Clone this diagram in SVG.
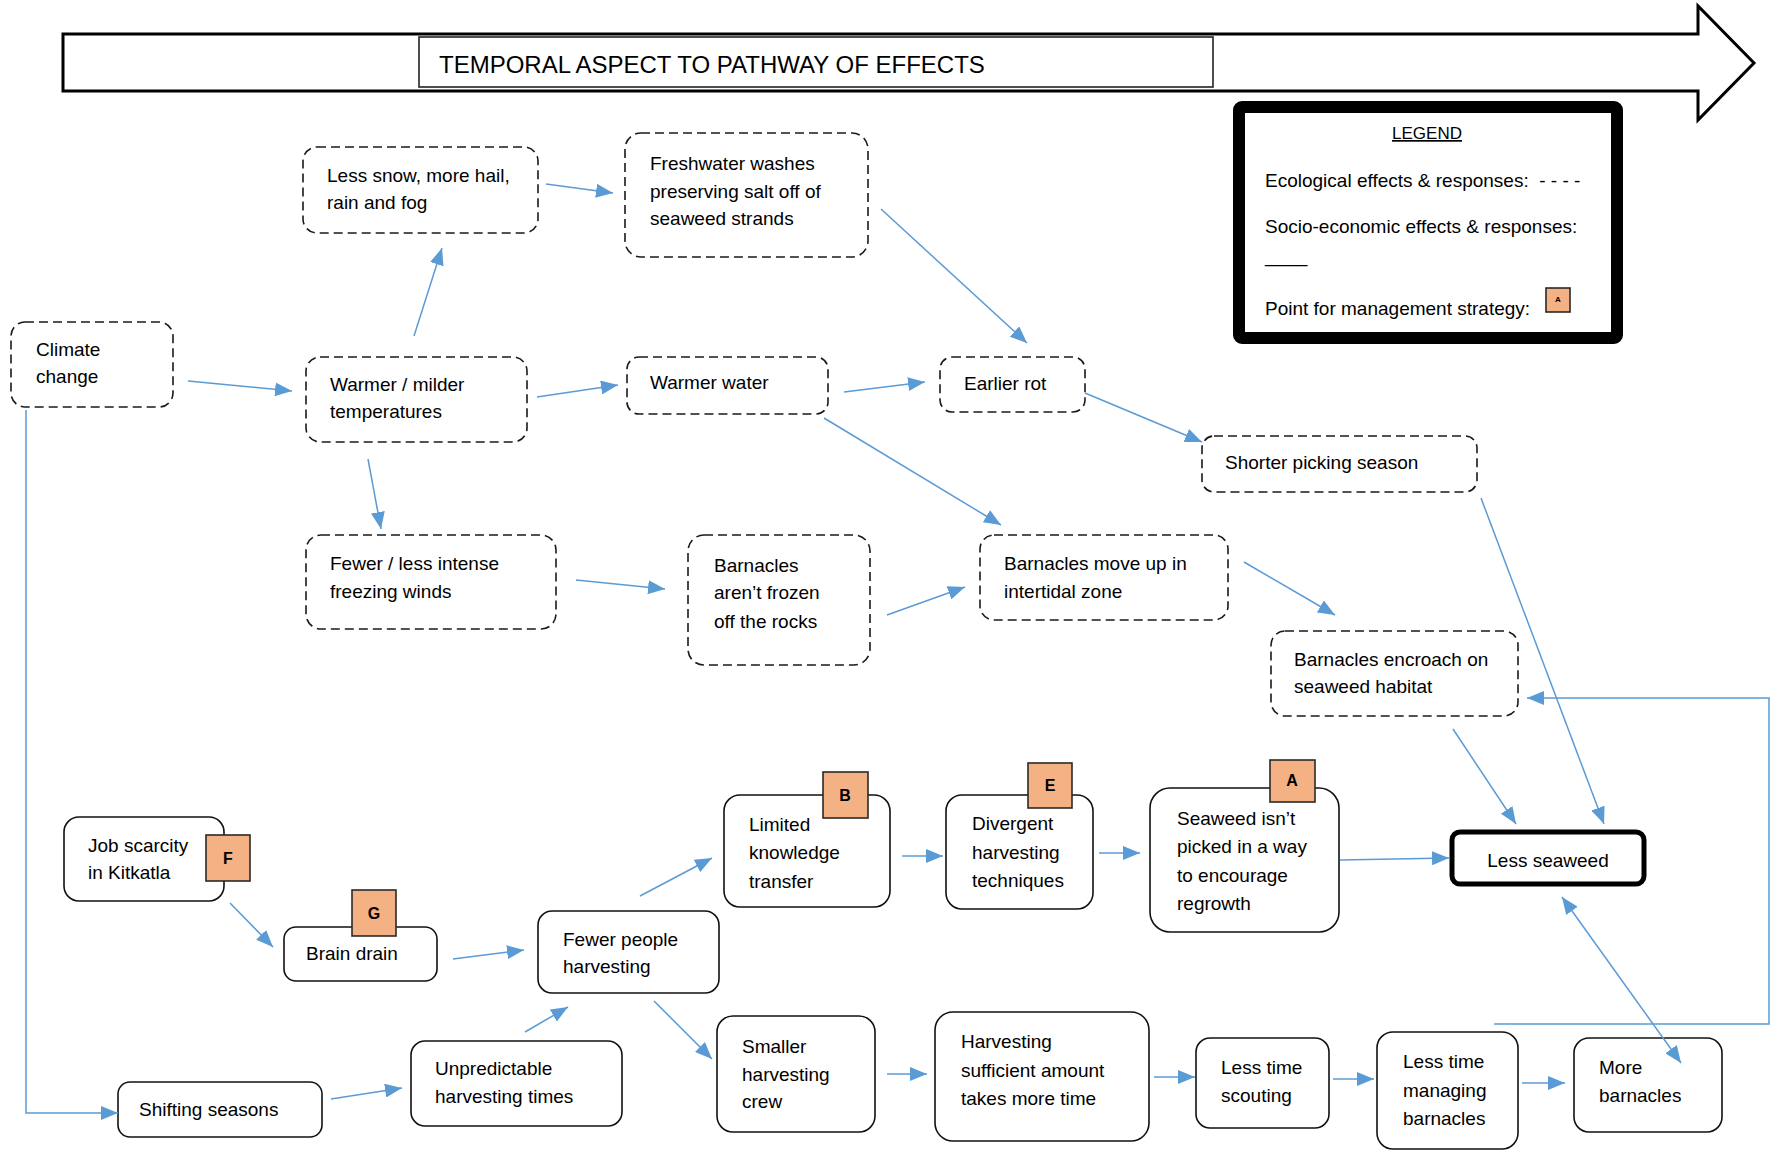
<svg xmlns="http://www.w3.org/2000/svg" width="1771" height="1151" viewBox="0 0 1771 1151">
<style>
text{font-family:"Liberation Sans",Arial,sans-serif;font-size:19px;fill:#000}
.eco{fill:#fff;stroke:#1a1a1a;stroke-width:1.6;stroke-dasharray:9 5}
.soc{fill:#fff;stroke:#111;stroke-width:1.6}
.badge{fill:#F4B183;stroke:#2a2a2a;stroke-width:1.6}
.bl{font-weight:bold;font-size:16px;text-anchor:middle}
.c{fill:none;stroke:#5B9BD5;stroke-width:1.5}
</style>
<defs>
<marker id="ah" markerUnits="userSpaceOnUse" markerWidth="18" markerHeight="14" refX="17" refY="7" orient="auto-start-reverse">
<path d="M0,0 L17,7 L0,14 z" fill="#5B9BD5"/>
</marker>
</defs>
<rect width="1771" height="1151" fill="#fff"/>

<g id="timeline">
<polygon points="63,34 1698,34 1698,6 1754,63 1698,120 1698,91 63,91" fill="#fff" stroke="#000" stroke-width="3"/>
<rect x="419" y="37" width="794" height="50" fill="#fff" stroke="#222" stroke-width="1.6"/>
<text x="439" y="73" style="font-size:24px">TEMPORAL ASPECT TO PATHWAY OF EFFECTS</text>
</g>

<g id="legend">
<rect x="1239" y="107" width="378" height="231" rx="3" fill="#fff" stroke="#000" stroke-width="12"/>
<text x="1427" y="139" text-anchor="middle" style="font-size:17px;text-decoration:underline">LEGEND</text>
<text x="1265" y="187" xml:space="preserve">Ecological effects &amp; responses:  - - - -</text>
<text x="1265" y="233">Socio-economic effects &amp; responses:</text>
<text x="1265" y="262">____</text>
<text x="1265" y="315">Point for management strategy:</text>
<rect x="1546" y="288" width="24" height="24" class="badge" stroke-width="1.2"/>
<text x="1558" y="302" text-anchor="middle" style="font-size:8px;font-weight:bold">A</text>
</g>

<g id="n-climate"><rect class="eco" x="11" y="322" width="162" height="85" rx="14"/><text x="36" y="356">Climate</text><text x="36" y="383">change</text></g>
<g id="n-lesssnow"><rect class="eco" x="303" y="147" width="235" height="86" rx="14"/><text x="327" y="182">Less snow, more hail,</text><text x="327" y="209">rain and fog</text></g>
<g id="n-freshwater"><rect class="eco" x="625" y="133" width="243" height="124" rx="16"/><text x="650" y="170">Freshwater washes</text><text x="650" y="198">preserving salt off of</text><text x="650" y="225">seaweed strands</text></g>
<g id="n-warmer"><rect class="eco" x="306" y="357" width="221" height="85" rx="14"/><text x="330" y="391">Warmer / milder</text><text x="330" y="418">temperatures</text></g>
<g id="n-warmerwater"><rect class="eco" x="627" y="357" width="201" height="57" rx="12"/><text x="650" y="389">Warmer water</text></g>
<g id="n-earlierrot"><rect class="eco" x="940" y="357" width="145" height="55" rx="12"/><text x="964" y="390">Earlier rot</text></g>
<g id="n-shorter"><rect class="eco" x="1202" y="436" width="275" height="56" rx="12"/><text x="1225" y="469">Shorter picking season</text></g>
<g id="n-fewerwinds"><rect class="eco" x="306" y="535" width="250" height="94" rx="15"/><text x="330" y="570">Fewer / less intense</text><text x="330" y="598">freezing winds</text></g>
<g id="n-notfrozen"><rect class="eco" x="688" y="535" width="182" height="130" rx="16"/><text x="714" y="572">Barnacles</text><text x="714" y="599">aren’t frozen</text><text x="714" y="628">off the rocks</text></g>
<g id="n-moveup"><rect class="eco" x="980" y="535" width="248" height="85" rx="14"/><text x="1004" y="570">Barnacles move up in</text><text x="1004" y="598">intertidal zone</text></g>
<g id="n-encroach"><rect class="eco" x="1271" y="631" width="247" height="85" rx="14"/><text x="1294" y="666">Barnacles encroach on</text><text x="1294" y="693">seaweed habitat</text></g>

<g id="n-job"><rect class="soc" x="64" y="817" width="160" height="84" rx="15"/><text x="88" y="852">Job scarcity</text><text x="88" y="879">in Kitkatla</text><rect class="badge" x="206" y="835" width="44" height="46"/><text class="bl" x="228" y="864">F</text></g>
<g id="n-brain"><rect class="soc" x="284" y="927" width="153" height="54" rx="12"/><text x="306" y="960">Brain drain</text><rect class="badge" x="352" y="890" width="44" height="46"/><text class="bl" x="374" y="919">G</text></g>
<g id="n-fewerpeople"><rect class="soc" x="538" y="911" width="181" height="82" rx="14"/><text x="563" y="946">Fewer people</text><text x="563" y="973">harvesting</text></g>
<g id="n-limited"><rect class="soc" x="724" y="795" width="166" height="112" rx="16"/><text x="749" y="831">Limited</text><text x="749" y="859">knowledge</text><text x="749" y="888">transfer</text><rect class="badge" x="823" y="772" width="45" height="46"/><text class="bl" x="845" y="801">B</text></g>
<g id="n-divergent"><rect class="soc" x="946" y="795" width="147" height="114" rx="16"/><text x="972" y="830">Divergent</text><text x="972" y="859">harvesting</text><text x="972" y="887">techniques</text><rect class="badge" x="1028" y="763" width="44" height="45"/><text class="bl" x="1050" y="791">E</text></g>
<g id="n-notpicked"><rect class="soc" x="1150" y="788" width="189" height="144" rx="20"/><text x="1177" y="825">Seaweed isn’t</text><text x="1177" y="853">picked in a way</text><text x="1177" y="882">to encourage</text><text x="1177" y="910">regrowth</text><rect class="badge" x="1270" y="760" width="45" height="42"/><text class="bl" x="1292" y="786">A</text></g>
<g id="n-lessseaweed"><rect x="1452" y="832" width="192" height="52" rx="8" fill="#fff" stroke="#000" stroke-width="5"/><text x="1548" y="867" text-anchor="middle">Less seaweed</text></g>
<g id="n-shifting"><rect class="soc" x="118" y="1082" width="204" height="55" rx="12"/><text x="139" y="1116">Shifting seasons</text></g>
<g id="n-unpredictable"><rect class="soc" x="411" y="1041" width="211" height="85" rx="14"/><text x="435" y="1075">Unpredictable</text><text x="435" y="1103">harvesting times</text></g>
<g id="n-smaller"><rect class="soc" x="717" y="1016" width="158" height="116" rx="16"/><text x="742" y="1053">Smaller</text><text x="742" y="1081">harvesting</text><text x="742" y="1108">crew</text></g>
<g id="n-sufficient"><rect class="soc" x="935" y="1012" width="214" height="129" rx="18"/><text x="961" y="1048">Harvesting</text><text x="961" y="1077">sufficient amount</text><text x="961" y="1105">takes more time</text></g>
<g id="n-scouting"><rect class="soc" x="1196" y="1038" width="133" height="90" rx="14"/><text x="1221" y="1074">Less time</text><text x="1221" y="1102">scouting</text></g>
<g id="n-managing"><rect class="soc" x="1377" y="1032" width="141" height="117" rx="16"/><text x="1403" y="1068">Less time</text><text x="1403" y="1097">managing</text><text x="1403" y="1125">barnacles</text></g>
<g id="n-more"><rect class="soc" x="1574" y="1038" width="148" height="94" rx="15"/><text x="1599" y="1074">More</text><text x="1599" y="1102">barnacles</text></g>

<g id="connectors">
<line class="c" x1="188" y1="381" x2="292" y2="391" marker-end="url(#ah)"/>
<line class="c" x1="414" y1="336" x2="442" y2="248" marker-end="url(#ah)"/>
<line class="c" x1="546" y1="184" x2="613" y2="193" marker-end="url(#ah)"/>
<line class="c" x1="537" y1="397" x2="618" y2="385" marker-end="url(#ah)"/>
<line class="c" x1="844" y1="392" x2="925" y2="382" marker-end="url(#ah)"/>
<line class="c" x1="881" y1="209" x2="1027" y2="343" marker-end="url(#ah)"/>
<line class="c" x1="1085" y1="393" x2="1202" y2="442" marker-end="url(#ah)"/>
<line class="c" x1="824" y1="418" x2="1001" y2="525" marker-end="url(#ah)"/>
<line class="c" x1="368" y1="459" x2="381" y2="529" marker-end="url(#ah)"/>
<line class="c" x1="576" y1="580" x2="665" y2="589" marker-end="url(#ah)"/>
<line class="c" x1="887" y1="615" x2="965" y2="587" marker-end="url(#ah)"/>
<line class="c" x1="1244" y1="562" x2="1335" y2="615" marker-end="url(#ah)"/>
<line class="c" x1="1481" y1="498" x2="1604" y2="824" marker-end="url(#ah)"/>
<line class="c" x1="1453" y1="729" x2="1516" y2="824" marker-end="url(#ah)"/>
<path class="c" d="M1494,1024 H1769 V698 H1527" marker-end="url(#ah)"/>
<path class="c" d="M26,410 V1113 H118" marker-end="url(#ah)"/>
<line class="c" x1="230" y1="903" x2="273" y2="947" marker-end="url(#ah)"/>
<line class="c" x1="453" y1="959" x2="524" y2="950" marker-end="url(#ah)"/>
<line class="c" x1="640" y1="896" x2="712" y2="858" marker-end="url(#ah)"/>
<line class="c" x1="331" y1="1099" x2="402" y2="1088" marker-end="url(#ah)"/>
<line class="c" x1="525" y1="1032" x2="568" y2="1007" marker-end="url(#ah)"/>
<line class="c" x1="654" y1="1001" x2="712" y2="1059" marker-end="url(#ah)"/>
<line class="c" x1="902" y1="856" x2="943" y2="856" marker-end="url(#ah)"/>
<line class="c" x1="1099" y1="853" x2="1140" y2="853" marker-end="url(#ah)"/>
<line class="c" x1="1340" y1="860" x2="1449" y2="858" marker-end="url(#ah)"/>
<line class="c" x1="887" y1="1074" x2="927" y2="1074" marker-end="url(#ah)"/>
<line class="c" x1="1154" y1="1077" x2="1195" y2="1077" marker-end="url(#ah)"/>
<line class="c" x1="1333" y1="1079" x2="1374" y2="1079" marker-end="url(#ah)"/>
<line class="c" x1="1522" y1="1083" x2="1565" y2="1083" marker-end="url(#ah)"/>
<line class="c" x1="1562" y1="897" x2="1681" y2="1063" marker-start="url(#ah)" marker-end="url(#ah)"/>
</g>
</svg>
